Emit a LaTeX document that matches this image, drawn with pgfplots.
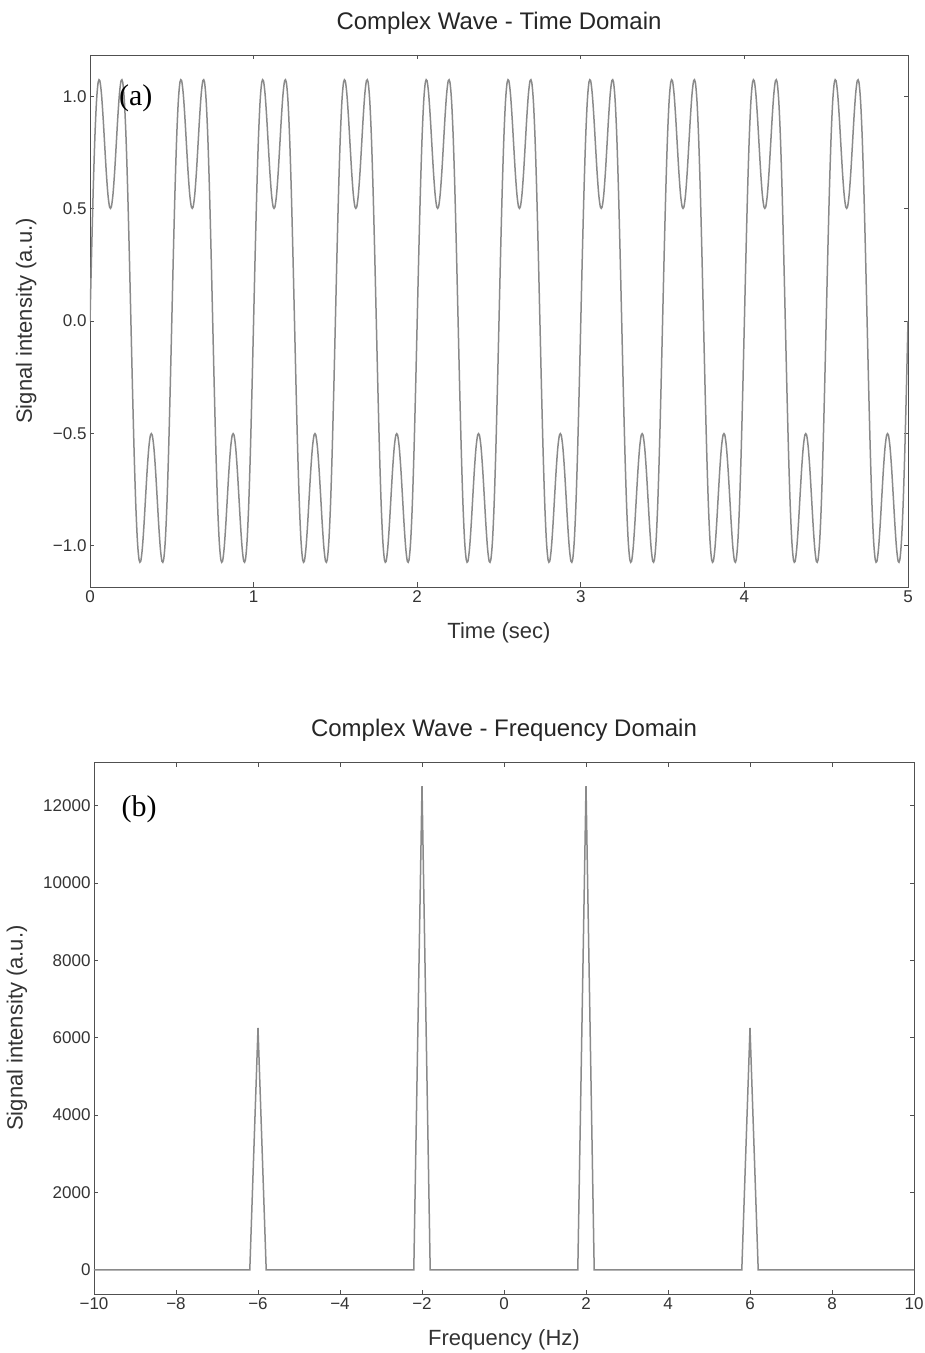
\documentclass[border=0pt]{standalone}
\usepackage{pgfplots}
\pgfplotsset{compat=1.18}
\usepackage{fontspec}
\setmainfont{Liberation Sans}
\newfontfamily\panelfont{Liberation Serif}

\definecolor{framegray}{HTML}{505050}
\definecolor{textgray}{HTML}{333333}
\definecolor{wavegray}{HTML}{8A8A8A}

\pgfplotsset{
  panel/.style={
    scale only axis,
    scaled ticks=false,
    axis line style={framegray, line width=0.8bp},
    every tick/.style={framegray, line width=0.8bp},
    tick align=inside,
    major tick length=4.5bp,
    ticklabel style={font=\fontsize{17bp}{20bp}\selectfont, text=textgray},
    label style={font=\fontsize{22bp}{26bp}\selectfont, text=textgray},
    title style={font=\fontsize{24bp}{28bp}\selectfont, text=black!85,
      at={(axis description cs:0.5,1)}, anchor=center, yshift=26bp},
    xlabel style={at={(axis description cs:0.5,0)}, anchor=center, yshift=-46bp},
  }
}

\begin{document}
\begin{tikzpicture}
\path[use as bounding box] (-90bp,-766bp) rectangle (835bp,587bp);

% (a) time domain: 2 Hz fundamental plus half-amplitude 6 Hz component
\begin{axis}[panel,
  at={(0,0)}, anchor=south west,
  width=818bp, height=532bp,
  xmin=0, xmax=5, ymin=-1.184, ymax=1.184,
  xtick={0,1,2,3,4,5}, xticklabels={0,1,2,3,4,5},
  ytick={-1,-0.5,0,0.5,1}, yticklabels={−1.0,−0.5,0.0,0.5,1.0},
  title={Complex Wave - Time Domain},
  xlabel={Time (sec)},
  ylabel={Signal intensity (a.u.)},
  ylabel style={at={(axis description cs:-0.078,0.5)}, anchor=center},
]
\addplot[wavegray, line width=1.5bp, smooth] table[row sep=\\] {
t y\\
0.00 0\\ 0.01 0.3094\\ 0.02 0.5910\\ 0.03 0.8205\\ 0.04 0.9808\\ 0.05 1.0633\\ 0.06 1.0698\\ 0.07 1.0114\\ 0.08 0.9070\\ 0.09 0.7805\\ 0.10 0.6572\\ 0.11 0.5601\\ 0.12 0.5069\\ 0.13 0.5069\\ 0.14 0.5601\\ 0.15 0.6572\\ 0.16 0.7805\\ 0.17 0.9070\\ 0.18 1.0114\\ 0.19 1.0698\\ 0.20 1.0633\\ 0.21 0.9808\\ 0.22 0.8205\\ 0.23 0.5910\\ 0.24 0.3094\\
0.25 0\\ 0.26 -0.3094\\ 0.27 -0.5910\\ 0.28 -0.8205\\ 0.29 -0.9808\\ 0.30 -1.0633\\ 0.31 -1.0698\\ 0.32 -1.0114\\ 0.33 -0.9070\\ 0.34 -0.7805\\ 0.35 -0.6572\\ 0.36 -0.5601\\ 0.37 -0.5069\\ 0.38 -0.5069\\ 0.39 -0.5601\\ 0.40 -0.6572\\ 0.41 -0.7805\\ 0.42 -0.9070\\ 0.43 -1.0114\\ 0.44 -1.0698\\ 0.45 -1.0633\\ 0.46 -0.9808\\ 0.47 -0.8205\\ 0.48 -0.5910\\ 0.49 -0.3094\\
0.50 0\\ 0.51 0.3094\\ 0.52 0.5910\\ 0.53 0.8205\\ 0.54 0.9808\\ 0.55 1.0633\\ 0.56 1.0698\\ 0.57 1.0114\\ 0.58 0.9070\\ 0.59 0.7805\\ 0.60 0.6572\\ 0.61 0.5601\\ 0.62 0.5069\\ 0.63 0.5069\\ 0.64 0.5601\\ 0.65 0.6572\\ 0.66 0.7805\\ 0.67 0.9070\\ 0.68 1.0114\\ 0.69 1.0698\\ 0.70 1.0633\\ 0.71 0.9808\\ 0.72 0.8205\\ 0.73 0.5910\\ 0.74 0.3094\\
0.75 0\\ 0.76 -0.3094\\ 0.77 -0.5910\\ 0.78 -0.8205\\ 0.79 -0.9808\\ 0.80 -1.0633\\ 0.81 -1.0698\\ 0.82 -1.0114\\ 0.83 -0.9070\\ 0.84 -0.7805\\ 0.85 -0.6572\\ 0.86 -0.5601\\ 0.87 -0.5069\\ 0.88 -0.5069\\ 0.89 -0.5601\\ 0.90 -0.6572\\ 0.91 -0.7805\\ 0.92 -0.9070\\ 0.93 -1.0114\\ 0.94 -1.0698\\ 0.95 -1.0633\\ 0.96 -0.9808\\ 0.97 -0.8205\\ 0.98 -0.5910\\ 0.99 -0.3094\\
1.00 0\\ 1.01 0.3094\\ 1.02 0.5910\\ 1.03 0.8205\\ 1.04 0.9808\\ 1.05 1.0633\\ 1.06 1.0698\\ 1.07 1.0114\\ 1.08 0.9070\\ 1.09 0.7805\\ 1.10 0.6572\\ 1.11 0.5601\\ 1.12 0.5069\\ 1.13 0.5069\\ 1.14 0.5601\\ 1.15 0.6572\\ 1.16 0.7805\\ 1.17 0.9070\\ 1.18 1.0114\\ 1.19 1.0698\\ 1.20 1.0633\\ 1.21 0.9808\\ 1.22 0.8205\\ 1.23 0.5910\\ 1.24 0.3094\\
1.25 0\\ 1.26 -0.3094\\ 1.27 -0.5910\\ 1.28 -0.8205\\ 1.29 -0.9808\\ 1.30 -1.0633\\ 1.31 -1.0698\\ 1.32 -1.0114\\ 1.33 -0.9070\\ 1.34 -0.7805\\ 1.35 -0.6572\\ 1.36 -0.5601\\ 1.37 -0.5069\\ 1.38 -0.5069\\ 1.39 -0.5601\\ 1.40 -0.6572\\ 1.41 -0.7805\\ 1.42 -0.9070\\ 1.43 -1.0114\\ 1.44 -1.0698\\ 1.45 -1.0633\\ 1.46 -0.9808\\ 1.47 -0.8205\\ 1.48 -0.5910\\ 1.49 -0.3094\\
1.50 0\\ 1.51 0.3094\\ 1.52 0.5910\\ 1.53 0.8205\\ 1.54 0.9808\\ 1.55 1.0633\\ 1.56 1.0698\\ 1.57 1.0114\\ 1.58 0.9070\\ 1.59 0.7805\\ 1.60 0.6572\\ 1.61 0.5601\\ 1.62 0.5069\\ 1.63 0.5069\\ 1.64 0.5601\\ 1.65 0.6572\\ 1.66 0.7805\\ 1.67 0.9070\\ 1.68 1.0114\\ 1.69 1.0698\\ 1.70 1.0633\\ 1.71 0.9808\\ 1.72 0.8205\\ 1.73 0.5910\\ 1.74 0.3094\\
1.75 0\\ 1.76 -0.3094\\ 1.77 -0.5910\\ 1.78 -0.8205\\ 1.79 -0.9808\\ 1.80 -1.0633\\ 1.81 -1.0698\\ 1.82 -1.0114\\ 1.83 -0.9070\\ 1.84 -0.7805\\ 1.85 -0.6572\\ 1.86 -0.5601\\ 1.87 -0.5069\\ 1.88 -0.5069\\ 1.89 -0.5601\\ 1.90 -0.6572\\ 1.91 -0.7805\\ 1.92 -0.9070\\ 1.93 -1.0114\\ 1.94 -1.0698\\ 1.95 -1.0633\\ 1.96 -0.9808\\ 1.97 -0.8205\\ 1.98 -0.5910\\ 1.99 -0.3094\\
2.00 0\\ 2.01 0.3094\\ 2.02 0.5910\\ 2.03 0.8205\\ 2.04 0.9808\\ 2.05 1.0633\\ 2.06 1.0698\\ 2.07 1.0114\\ 2.08 0.9070\\ 2.09 0.7805\\ 2.10 0.6572\\ 2.11 0.5601\\ 2.12 0.5069\\ 2.13 0.5069\\ 2.14 0.5601\\ 2.15 0.6572\\ 2.16 0.7805\\ 2.17 0.9070\\ 2.18 1.0114\\ 2.19 1.0698\\ 2.20 1.0633\\ 2.21 0.9808\\ 2.22 0.8205\\ 2.23 0.5910\\ 2.24 0.3094\\
2.25 0\\ 2.26 -0.3094\\ 2.27 -0.5910\\ 2.28 -0.8205\\ 2.29 -0.9808\\ 2.30 -1.0633\\ 2.31 -1.0698\\ 2.32 -1.0114\\ 2.33 -0.9070\\ 2.34 -0.7805\\ 2.35 -0.6572\\ 2.36 -0.5601\\ 2.37 -0.5069\\ 2.38 -0.5069\\ 2.39 -0.5601\\ 2.40 -0.6572\\ 2.41 -0.7805\\ 2.42 -0.9070\\ 2.43 -1.0114\\ 2.44 -1.0698\\ 2.45 -1.0633\\ 2.46 -0.9808\\ 2.47 -0.8205\\ 2.48 -0.5910\\ 2.49 -0.3094\\
2.50 0\\ 2.51 0.3094\\ 2.52 0.5910\\ 2.53 0.8205\\ 2.54 0.9808\\ 2.55 1.0633\\ 2.56 1.0698\\ 2.57 1.0114\\ 2.58 0.9070\\ 2.59 0.7805\\ 2.60 0.6572\\ 2.61 0.5601\\ 2.62 0.5069\\ 2.63 0.5069\\ 2.64 0.5601\\ 2.65 0.6572\\ 2.66 0.7805\\ 2.67 0.9070\\ 2.68 1.0114\\ 2.69 1.0698\\ 2.70 1.0633\\ 2.71 0.9808\\ 2.72 0.8205\\ 2.73 0.5910\\ 2.74 0.3094\\
2.75 0\\ 2.76 -0.3094\\ 2.77 -0.5910\\ 2.78 -0.8205\\ 2.79 -0.9808\\ 2.80 -1.0633\\ 2.81 -1.0698\\ 2.82 -1.0114\\ 2.83 -0.9070\\ 2.84 -0.7805\\ 2.85 -0.6572\\ 2.86 -0.5601\\ 2.87 -0.5069\\ 2.88 -0.5069\\ 2.89 -0.5601\\ 2.90 -0.6572\\ 2.91 -0.7805\\ 2.92 -0.9070\\ 2.93 -1.0114\\ 2.94 -1.0698\\ 2.95 -1.0633\\ 2.96 -0.9808\\ 2.97 -0.8205\\ 2.98 -0.5910\\ 2.99 -0.3094\\
3.00 0\\ 3.01 0.3094\\ 3.02 0.5910\\ 3.03 0.8205\\ 3.04 0.9808\\ 3.05 1.0633\\ 3.06 1.0698\\ 3.07 1.0114\\ 3.08 0.9070\\ 3.09 0.7805\\ 3.10 0.6572\\ 3.11 0.5601\\ 3.12 0.5069\\ 3.13 0.5069\\ 3.14 0.5601\\ 3.15 0.6572\\ 3.16 0.7805\\ 3.17 0.9070\\ 3.18 1.0114\\ 3.19 1.0698\\ 3.20 1.0633\\ 3.21 0.9808\\ 3.22 0.8205\\ 3.23 0.5910\\ 3.24 0.3094\\
3.25 0\\ 3.26 -0.3094\\ 3.27 -0.5910\\ 3.28 -0.8205\\ 3.29 -0.9808\\ 3.30 -1.0633\\ 3.31 -1.0698\\ 3.32 -1.0114\\ 3.33 -0.9070\\ 3.34 -0.7805\\ 3.35 -0.6572\\ 3.36 -0.5601\\ 3.37 -0.5069\\ 3.38 -0.5069\\ 3.39 -0.5601\\ 3.40 -0.6572\\ 3.41 -0.7805\\ 3.42 -0.9070\\ 3.43 -1.0114\\ 3.44 -1.0698\\ 3.45 -1.0633\\ 3.46 -0.9808\\ 3.47 -0.8205\\ 3.48 -0.5910\\ 3.49 -0.3094\\
3.50 0\\ 3.51 0.3094\\ 3.52 0.5910\\ 3.53 0.8205\\ 3.54 0.9808\\ 3.55 1.0633\\ 3.56 1.0698\\ 3.57 1.0114\\ 3.58 0.9070\\ 3.59 0.7805\\ 3.60 0.6572\\ 3.61 0.5601\\ 3.62 0.5069\\ 3.63 0.5069\\ 3.64 0.5601\\ 3.65 0.6572\\ 3.66 0.7805\\ 3.67 0.9070\\ 3.68 1.0114\\ 3.69 1.0698\\ 3.70 1.0633\\ 3.71 0.9808\\ 3.72 0.8205\\ 3.73 0.5910\\ 3.74 0.3094\\
3.75 0\\ 3.76 -0.3094\\ 3.77 -0.5910\\ 3.78 -0.8205\\ 3.79 -0.9808\\ 3.80 -1.0633\\ 3.81 -1.0698\\ 3.82 -1.0114\\ 3.83 -0.9070\\ 3.84 -0.7805\\ 3.85 -0.6572\\ 3.86 -0.5601\\ 3.87 -0.5069\\ 3.88 -0.5069\\ 3.89 -0.5601\\ 3.90 -0.6572\\ 3.91 -0.7805\\ 3.92 -0.9070\\ 3.93 -1.0114\\ 3.94 -1.0698\\ 3.95 -1.0633\\ 3.96 -0.9808\\ 3.97 -0.8205\\ 3.98 -0.5910\\ 3.99 -0.3094\\
4.00 0\\ 4.01 0.3094\\ 4.02 0.5910\\ 4.03 0.8205\\ 4.04 0.9808\\ 4.05 1.0633\\ 4.06 1.0698\\ 4.07 1.0114\\ 4.08 0.9070\\ 4.09 0.7805\\ 4.10 0.6572\\ 4.11 0.5601\\ 4.12 0.5069\\ 4.13 0.5069\\ 4.14 0.5601\\ 4.15 0.6572\\ 4.16 0.7805\\ 4.17 0.9070\\ 4.18 1.0114\\ 4.19 1.0698\\ 4.20 1.0633\\ 4.21 0.9808\\ 4.22 0.8205\\ 4.23 0.5910\\ 4.24 0.3094\\
4.25 0\\ 4.26 -0.3094\\ 4.27 -0.5910\\ 4.28 -0.8205\\ 4.29 -0.9808\\ 4.30 -1.0633\\ 4.31 -1.0698\\ 4.32 -1.0114\\ 4.33 -0.9070\\ 4.34 -0.7805\\ 4.35 -0.6572\\ 4.36 -0.5601\\ 4.37 -0.5069\\ 4.38 -0.5069\\ 4.39 -0.5601\\ 4.40 -0.6572\\ 4.41 -0.7805\\ 4.42 -0.9070\\ 4.43 -1.0114\\ 4.44 -1.0698\\ 4.45 -1.0633\\ 4.46 -0.9808\\ 4.47 -0.8205\\ 4.48 -0.5910\\ 4.49 -0.3094\\
4.50 0\\ 4.51 0.3094\\ 4.52 0.5910\\ 4.53 0.8205\\ 4.54 0.9808\\ 4.55 1.0633\\ 4.56 1.0698\\ 4.57 1.0114\\ 4.58 0.9070\\ 4.59 0.7805\\ 4.60 0.6572\\ 4.61 0.5601\\ 4.62 0.5069\\ 4.63 0.5069\\ 4.64 0.5601\\ 4.65 0.6572\\ 4.66 0.7805\\ 4.67 0.9070\\ 4.68 1.0114\\ 4.69 1.0698\\ 4.70 1.0633\\ 4.71 0.9808\\ 4.72 0.8205\\ 4.73 0.5910\\ 4.74 0.3094\\
4.75 0\\ 4.76 -0.3094\\ 4.77 -0.5910\\ 4.78 -0.8205\\ 4.79 -0.9808\\ 4.80 -1.0633\\ 4.81 -1.0698\\ 4.82 -1.0114\\ 4.83 -0.9070\\ 4.84 -0.7805\\ 4.85 -0.6572\\ 4.86 -0.5601\\ 4.87 -0.5069\\ 4.88 -0.5069\\ 4.89 -0.5601\\ 4.90 -0.6572\\ 4.91 -0.7805\\ 4.92 -0.9070\\ 4.93 -1.0114\\ 4.94 -1.0698\\ 4.95 -1.0633\\ 4.96 -0.9808\\ 4.97 -0.8205\\ 4.98 -0.5910\\ 4.99 -0.3094\\
5.00 0\\
};
\node[font=\panelfont\fontsize{30bp}{34bp}\selectfont, text=black] at (axis cs:0.28,0.99) {(a)};
\end{axis}

% (b) magnitude spectrum, 0.2 Hz bins
\begin{axis}[panel,
  at={(4bp,-707bp)}, anchor=south west,
  width=820bp, height=532bp,
  xmin=-10, xmax=10, ymin=-625, ymax=13125,
  xtick={-10,-8,-6,-4,-2,0,2,4,6,8,10},
  xticklabels={−10,−8,−6,−4,−2,0,2,4,6,8,10},
  ytick={0,2000,4000,6000,8000,10000,12000},
  yticklabels={0,2000,4000,6000,8000,10000,12000},
  title={Complex Wave - Frequency Domain},
  xlabel={Frequency (Hz)},
  ylabel={Signal intensity (a.u.)},
  ylabel style={at={(axis description cs:-0.094,0.5)}, anchor=center},
]
\addplot[wavegray, line width=1.5bp] coordinates {
  (-10,0) (-6.2,0) (-6,6250) (-5.8,0)
  (-2.2,0) (-2,12500) (-1.8,0)
  (1.8,0) (2,12500) (2.2,0)
  (5.8,0) (6,6250) (6.2,0) (10,0)
};
\node[font=\panelfont\fontsize{30bp}{34bp}\selectfont, text=black] at (axis cs:-8.9,11900) {(b)};
\end{axis}
\end{tikzpicture}
\end{document}
